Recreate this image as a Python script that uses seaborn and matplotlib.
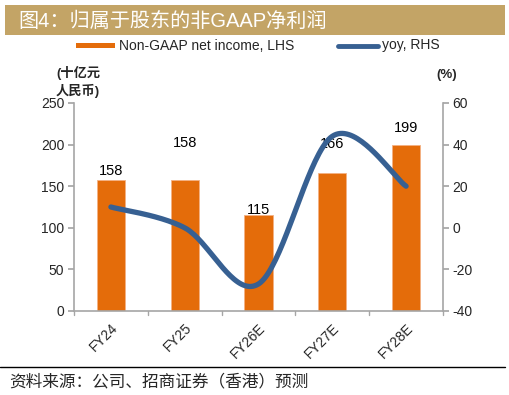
import numpy as np
import pandas as pd
import matplotlib
matplotlib.use("Agg")
import matplotlib.pyplot as plt
import seaborn as sns
from matplotlib.lines import Line2D
from matplotlib.patches import Rectangle

categories = ["FY24", "FY25", "FY26E", "FY27E", "FY28E"]
income = [158, 158, 115, 166, 199]
yoy = [10, 0, -27, 44, 20]
label_text = ["158", "158", "115", "166", "199"]
label_lift = [1, 29, -3, 21, 9]  # pixel lift of data labels above bar tops
title = "图4：归属于股东的非GAAP净利润"
source = "资料来源：公司、招商证券（香港）预测"
bar_name = "Non-GAAP net income, LHS"
line_name = "yoy, RHS"

sns.set_theme(style="white")
plt.rcParams['font.family'] = ['Liberation Sans', 'Noto Sans CJK SC', 'DejaVu Sans']
plt.rcParams['axes.unicode_minus'] = False

ORANGE = "#E46C0A"
BLUE = "#376092"
GRAY = "#A6A6A6"
GOLD = "#C3A466"

W, H = 510, 395
fig = plt.figure(figsize=(W / 100, H / 100), dpi=100)
fig.patch.set_facecolor("white")

def fx(px):
    return px / W

def fy(py):
    return 1 - py / H

# title banner
fig.patches.append(Rectangle((fx(5), fy(35)), fx(500), 30 / H, transform=fig.transFigure,
                             facecolor=GOLD, edgecolor="none", zorder=0))
fig.text(fx(18), fy(21), title, color="white", fontsize=14.5, va="center", ha="left",
         family=['Liberation Sans', 'Noto Sans CJK SC'])

ax = fig.add_axes([fx(74), fy(311), fx(443 - 74), (311 - 103) / H])
df = pd.DataFrame({"cat": categories, "income": income})
sns.barplot(data=df, x="cat", y="income", color=ORANGE, saturation=1, width=0.38, ax=ax,
            edgecolor="#F4B183", linewidth=0.6)
ax.set_ylim(0, 250)
ax.set_xlim(-0.5, len(categories) - 0.5)
ax.set_yticks([0, 50, 100, 150, 200, 250])
ax.set_xlabel("")
ax.set_ylabel("")
ax.set_xticks(range(len(categories)))
ax.set_xticklabels(categories, rotation=45, ha="right", rotation_mode="anchor", fontsize=10)
ax.tick_params(axis="x", length=0, pad=7)
ax.tick_params(axis="y", labelsize=10, length=4, color=GRAY, direction="out", left=True, pad=3)
for b in np.arange(-0.5, len(categories), 1.0):
    ax.plot([b, b], [0, -5], color=GRAY, lw=1, clip_on=False, transform=ax.transData)
for s in ["top", "right"]:
    ax.spines[s].set_visible(False)
for s in ["left", "bottom"]:
    ax.spines[s].set_color(GRAY)
    ax.spines[s].set_linewidth(1.2)

for i, (v, t, d) in enumerate(zip(income, label_text, label_lift)):
    ax.annotate(t, (i, v), xytext=(0, d + 1), textcoords="offset pixels", ha="center",
                va="bottom", fontsize=10.5, color="black")

ax2 = ax.twinx()
ax2.set_position(ax.get_position())
ax2.set_ylim(-40, 60)
ax2.set_yticks([-40, -20, 0, 20, 40, 60])
ax2.tick_params(axis="y", labelsize=10, length=4, color=GRAY, direction="out", right=True, pad=3)
for s in ["top", "left", "bottom"]:
    ax2.spines[s].set_visible(False)
ax2.spines["right"].set_color(GRAY)
ax2.spines["right"].set_linewidth(1.2)
ax2.grid(False)
ax.grid(False)

# smoothed line (Catmull-Rom, like a smoothed spreadsheet line)
xs = np.arange(len(yoy), dtype=float)
ys = np.array(yoy, dtype=float)
px_all, py_all = [], []
for i in range(len(xs) - 1):
    p0 = (xs[i - 1], ys[i - 1]) if i > 0 else (xs[i], ys[i])
    p1 = (xs[i], ys[i])
    p2 = (xs[i + 1], ys[i + 1])
    p3 = (xs[i + 2], ys[i + 2]) if i + 2 < len(xs) else (xs[i + 1], ys[i + 1])
    t = np.linspace(0, 1, 40)
    for k, (a0, a1, a2, a3) in enumerate(zip(p0, p1, p2, p3)):
        m1 = (a2 - a0) / 2
        m2 = (a3 - a1) / 2
        h00 = 2 * t**3 - 3 * t**2 + 1
        h10 = t**3 - 2 * t**2 + t
        h01 = -2 * t**3 + 3 * t**2
        h11 = t**3 - t**2
        val = h00 * a1 + h10 * m1 + h01 * a2 + h11 * m2
        (px_all if k == 0 else py_all).extend(val)
sns.lineplot(x=px_all, y=py_all, sort=False, color=BLUE, lw=3.8, ax=ax2, solid_capstyle="round")

# legend
fig.patches.append(Rectangle((fx(76), fy(48)), fx(39), 5 / H, transform=fig.transFigure,
                             facecolor=ORANGE, edgecolor="none"))
fig.text(fx(119), fy(45.5), bar_name, fontsize=10, va="center", ha="left")
fig.lines.append(Line2D([fx(338), fx(378)], [fy(45.5), fy(45.5)], transform=fig.transFigure,
                        color=BLUE, lw=3.5, solid_capstyle="round"))
fig.text(fx(382), fy(45.5), line_name, fontsize=10, va="center", ha="left")

# unit labels
fig.text(fx(56), fy(73), "(十亿元", fontsize=9.5, va="center", ha="left", fontweight="bold")
fig.text(fx(56), fy(91), "人民币)", fontsize=9.5, va="center", ha="left", fontweight="bold")
fig.text(fx(447), fy(75), "(%)", fontsize=9.5, va="center", ha="center", fontweight="bold")

# footer
fig.lines.append(Line2D([fx(0), fx(505)], [fy(367), fy(367)], transform=fig.transFigure,
                        color="black", lw=1))
fig.text(fx(9), fy(382), source, fontsize=12, va="center", ha="left", style="italic",
         family=['Noto Sans CJK SC'])

fig.savefig("out.png", dpi=100)
